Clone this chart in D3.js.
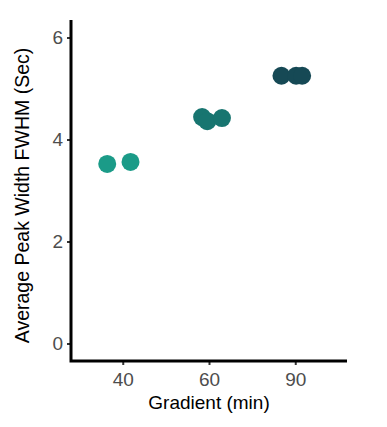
<!DOCTYPE html>
<html>
<head>
<meta charset="utf-8">
<script src="https://cdn.jsdelivr.net/npm/d3@7"></script>
<style>
  body { margin: 0; background: #fff; }
  text { font-family: "Liberation Sans", Arial, sans-serif; }
</style>
</head>
<body>
<script>
// valeurs
var gradients = ["40", "60", "90"];
var pointGroup = ["40", "40", "60", "60", "60", "90", "90", "90"];
var peakWidth = [3.52, 3.56, 4.44, 4.36, 4.42, 5.25, 5.25, 5.25];
var jitter = [-0.18, 0.09, -0.08, -0.02, 0.15, -0.16, 0.01, 0.08];
var yTicks = [0, 2, 4, 6];
var groupColors = ["#1b9b88", "#177570", "#164955"];

var width = 387, height = 427;
var margin = { left: 71, right: 40, top: 20, bottom: 66 };

var svg = d3.select("body").append("svg")
    .attr("width", width)
    .attr("height", height);

var x = d3.scalePoint()
    .domain(gradients)
    .range([margin.left, width - margin.right])
    .padding(0.6);

var y = d3.scaleLinear()
    .domain([0, 6])
    .range([343.5, 37.5]);

var color = d3.scaleOrdinal().domain(gradients).range(groupColors);

var yBottom = height - margin.bottom;

// axe y
var gy = svg.append("g")
    .attr("transform", "translate(" + margin.left + ",0)")
    .call(d3.axisLeft(y).tickValues(yTicks).tickFormat(d3.format("d")).tickSize(4).tickPadding(4));
gy.select(".domain").remove();
gy.selectAll(".tick line").attr("stroke", "#333").attr("stroke-width", 2);
gy.selectAll(".tick text").attr("fill", "#4d4d4d").style("font-size", "19px");

// axe x
var gx = svg.append("g")
    .attr("transform", "translate(0," + yBottom + ")")
    .call(d3.axisBottom(x).tickSize(4).tickPadding(8));
gx.select(".domain").remove();
gx.selectAll(".tick line").attr("stroke", "#333").attr("stroke-width", 2);
gx.selectAll(".tick text").attr("fill", "#4d4d4d").style("font-size", "19px");

// lignes des axes
svg.append("path")
    .attr("d", "M" + margin.left + "," + margin.top + "V" + yBottom + "H" + (width - margin.right))
    .attr("fill", "none")
    .attr("stroke", "#000")
    .attr("stroke-width", 3);

// points
var step = x.step();
svg.selectAll("circle.pt")
    .data(peakWidth)
    .enter().append("circle")
    .attr("class", "pt")
    .attr("cx", function(d, i) { return x(pointGroup[i]) + jitter[i] * step; })
    .attr("cy", function(d) { return y(d); })
    .attr("r", 9)
    .attr("fill", function(d, i) { return color(pointGroup[i]); });

// titres
svg.append("text")
    .attr("x", (margin.left + width - margin.right) / 2)
    .attr("y", 409)
    .attr("text-anchor", "middle")
    .style("font-size", "19px")
    .text("Gradient (min)");

svg.append("text")
    .attr("transform", "translate(29," + ((margin.top + yBottom) / 2 + 5) + ") rotate(-90)")
    .attr("text-anchor", "middle")
    .style("font-size", "19.5px")
    .text("Average Peak Width FWHM (Sec)");
</script>
</body>
</html>
